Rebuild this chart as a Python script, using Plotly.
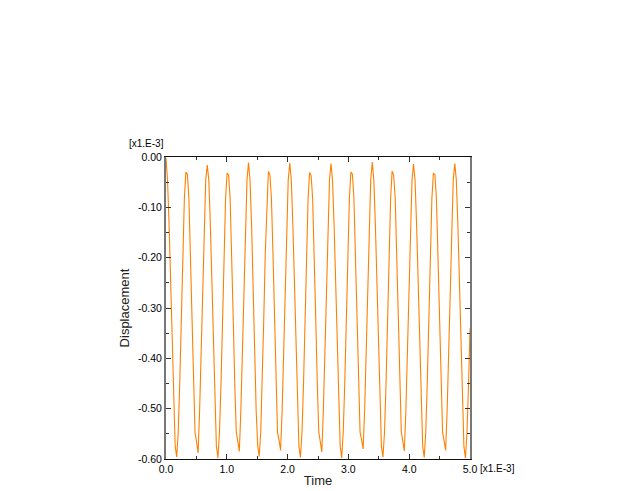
import plotly.graph_objects as go

# Time [x1.E-3]
time = [
    0.000, 0.025, 0.050, 0.075, 0.101, 0.126, 0.151, 0.176, 0.201, 0.226,
    0.251, 0.276, 0.302, 0.327, 0.352, 0.377, 0.402, 0.427, 0.452, 0.477,
    0.503, 0.528, 0.553, 0.578, 0.603, 0.628, 0.653, 0.679, 0.704, 0.729,
    0.754, 0.779, 0.804, 0.829, 0.854, 0.880, 0.905, 0.930, 0.955, 0.980,
    1.005, 1.030, 1.055, 1.081, 1.106, 1.131, 1.156, 1.181, 1.206, 1.231,
    1.257, 1.282, 1.307, 1.332, 1.357, 1.382, 1.407, 1.432, 1.458, 1.483,
    1.508, 1.533, 1.558, 1.583, 1.608, 1.633, 1.659, 1.684, 1.709, 1.734,
    1.759, 1.784, 1.809, 1.834, 1.860, 1.885, 1.910, 1.935, 1.960, 1.985,
    2.010, 2.036, 2.061, 2.086, 2.111, 2.136, 2.161, 2.186, 2.211, 2.237,
    2.262, 2.287, 2.312, 2.337, 2.362, 2.387, 2.412, 2.438, 2.463, 2.488,
    2.513, 2.538, 2.563, 2.588, 2.614, 2.639, 2.664, 2.689, 2.714, 2.739,
    2.764, 2.789, 2.815, 2.840, 2.865, 2.890, 2.915, 2.940, 2.965, 2.990,
    3.016, 3.041, 3.066, 3.091, 3.116, 3.141, 3.166, 3.192, 3.217, 3.242,
    3.267, 3.292, 3.317, 3.342, 3.367, 3.393, 3.418, 3.443, 3.468, 3.493,
    3.518, 3.543, 3.568, 3.594, 3.619, 3.644, 3.669, 3.694, 3.719, 3.744,
    3.770, 3.795, 3.820, 3.845, 3.870, 3.895, 3.920, 3.945, 3.971, 3.996,
    4.021, 4.046, 4.071, 4.096, 4.121, 4.146, 4.172, 4.197, 4.222, 4.247,
    4.272, 4.297, 4.322, 4.347, 4.373, 4.398, 4.423, 4.448, 4.473, 4.498,
    4.523, 4.549, 4.574, 4.599, 4.624, 4.649, 4.674, 4.699, 4.724, 4.750,
    4.775, 4.800, 4.825, 4.850, 4.875, 4.900, 4.925, 4.951, 4.976, 5.001,
]

# Displacement [x1.E-3]
displacement = [
    # n = 0..26
    -0.002, -0.046, -0.132, -0.255, -0.388, -0.504, -0.574, -0.596, -0.547,
    -0.450, -0.322, -0.190, -0.083, -0.030, -0.034, -0.083, -0.190, -0.322,
    -0.450, -0.547, -0.566, -0.588, -0.504, -0.388, -0.255, -0.132, -0.046,
    # n = 27..53
    -0.016, -0.046, -0.132, -0.255, -0.388, -0.504, -0.575, -0.598, -0.547,
    -0.450, -0.322, -0.190, -0.083, -0.032, -0.036, -0.083, -0.190, -0.322,
    -0.450, -0.547, -0.565, -0.585, -0.504, -0.388, -0.255, -0.132, -0.046,
    # n = 54..80
    -0.011, -0.046, -0.132, -0.255, -0.388, -0.504, -0.573, -0.595, -0.547,
    -0.450, -0.322, -0.190, -0.083, -0.029, -0.035, -0.083, -0.190, -0.322,
    -0.450, -0.547, -0.563, -0.583, -0.504, -0.388, -0.255, -0.132, -0.046,
    # n = 81..107
    -0.012, -0.046, -0.132, -0.255, -0.388, -0.504, -0.574, -0.597, -0.547,
    -0.450, -0.322, -0.190, -0.083, -0.031, -0.037, -0.083, -0.190, -0.322,
    -0.450, -0.547, -0.566, -0.586, -0.504, -0.388, -0.255, -0.132, -0.046,
    # n = 108..134
    -0.013, -0.046, -0.132, -0.255, -0.388, -0.504, -0.575, -0.598, -0.547,
    -0.450, -0.322, -0.190, -0.083, -0.030, -0.034, -0.083, -0.190, -0.322,
    -0.450, -0.547, -0.562, -0.580, -0.504, -0.388, -0.255, -0.132, -0.046,
    # n = 135..161
    -0.010, -0.046, -0.132, -0.255, -0.388, -0.504, -0.574, -0.596, -0.547,
    -0.450, -0.322, -0.190, -0.083, -0.028, -0.036, -0.083, -0.190, -0.322,
    -0.450, -0.547, -0.565, -0.584, -0.504, -0.388, -0.255, -0.132, -0.046,
    # n = 162..188
    -0.014, -0.046, -0.132, -0.255, -0.388, -0.504, -0.575, -0.597, -0.547,
    -0.450, -0.322, -0.190, -0.083, -0.032, -0.035, -0.083, -0.190, -0.322,
    -0.450, -0.547, -0.564, -0.583, -0.504, -0.388, -0.255, -0.132, -0.046,
    # n = 189..199
    -0.013, -0.046, -0.132, -0.255, -0.388, -0.504, -0.575, -0.598, -0.547,
    -0.450, -0.340,
]

x_tick_values = [0, 1, 2, 3, 4, 5]
x_tick_labels = ["0.0", "1.0", "2.0", "3.0", "4.0", "5.0"]
y_tick_values = [0, -0.1, -0.2, -0.3, -0.4, -0.5, -0.6]
y_tick_labels = ["0.00", "-0.10", "-0.20", "-0.30", "-0.40", "-0.50", "-0.60"]

FONT = "Liberation Sans, Arial, sans-serif"

fig = go.Figure()
fig.add_trace(go.Scatter(
    x=time, y=displacement, mode="lines",
    line=dict(color="#ff8000", width=1.1),
    showlegend=False, cliponaxis=True,
))

common = dict(
    showgrid=False, zeroline=False, showline=True, mirror="ticks",
    ticks="inside", ticklen=5, tickwidth=1, tickcolor="#333333",
    tickfont=dict(family=FONT, size=10.5, color="#000000"),
)

fig.update_xaxes(
    range=[0, 5], tickvals=x_tick_values, ticktext=x_tick_labels,
    linecolor="#111111", linewidth=1.2,
    minor=dict(dtick=0.5, ticks="inside", ticklen=3, tickcolor="#333333"),
    title=dict(text="Time", font=dict(family=FONT, size=13, color="#222222"), standoff=2),
    **common,
)
fig.update_yaxes(
    range=[-0.6, 0], tickvals=y_tick_values, ticktext=y_tick_labels,
    linecolor="#777777", linewidth=2,
    minor=dict(dtick=0.05, ticks="inside", ticklen=3, tickcolor="#333333"),
    title=dict(text="Displacement", font=dict(family=FONT, size=13, color="#222222"), standoff=5),
    **common,
)

fig.add_annotation(
    text="[x1.E-3]", xref="paper", yref="paper", x=0, y=1,
    xanchor="right", yanchor="bottom", showarrow=False, xshift=0, yshift=6,
    font=dict(family=FONT, size=10, color="#000000"),
)
fig.add_annotation(
    text="[x1.E-3]", xref="paper", yref="paper", x=1, y=0,
    xanchor="left", yanchor="top", showarrow=False, xshift=8, yshift=-2,
    font=dict(family=FONT, size=10, color="#000000"),
)

fig.update_layout(
    width=634, height=491,
    margin=dict(l=158, r=172, t=149, b=40, pad=0),
    paper_bgcolor="white", plot_bgcolor="white",
    font=dict(family=FONT),
)

fig.write_html("out.html")
